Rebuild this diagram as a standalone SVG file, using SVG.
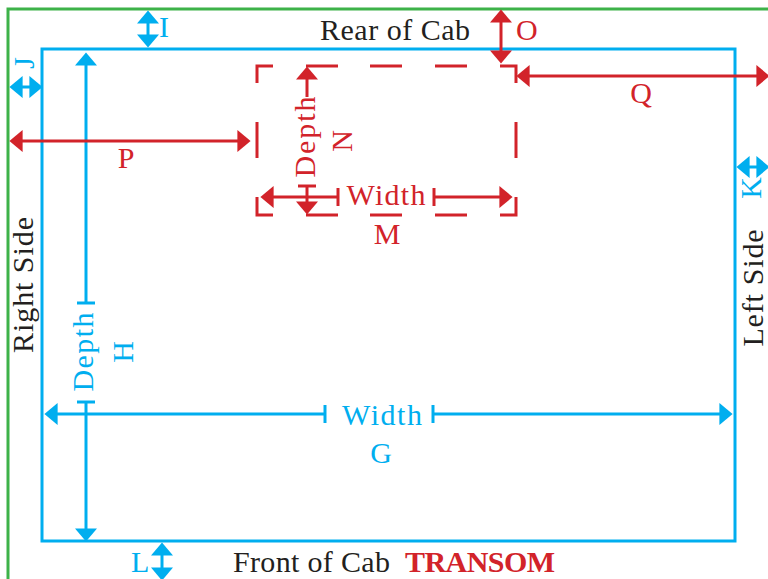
<svg xmlns="http://www.w3.org/2000/svg" width="768" height="579" viewBox="0 0 768 579">
<style>
text{font-family:"Liberation Serif","Times New Roman",serif;font-size:30px}
.b{fill:#00aeef}.r{fill:#d2232a}.k{fill:#231f20}
.bl{stroke:#00aeef;stroke-width:3;fill:none}
.rl{stroke:#d2232a;stroke-width:3;fill:none}
.m{text-anchor:middle}
</style>
<defs>
<marker id="ab" markerUnits="userSpaceOnUse" markerWidth="14" markerHeight="22" viewBox="0 0 12 20" refX="6" refY="10" orient="auto-start-reverse"><path d="M0,0 L12,10 L0,20 z" fill="#00aeef"/></marker>
<marker id="ar" markerUnits="userSpaceOnUse" markerWidth="14" markerHeight="22" viewBox="0 0 12 20" refX="6" refY="10" orient="auto-start-reverse"><path d="M0,0 L12,10 L0,20 z" fill="#d2232a"/></marker>
</defs>
<rect width="768" height="579" fill="#fff"/>
<g id="frame">
<path d="M8,579 V9 H768" stroke="#3db249" stroke-width="3" fill="none"/>
</g>
<g id="cab">
<rect x="42" y="49" width="693" height="492" class="bl"/>
<text class="k m" x="395" y="40" textLength="150">Rear of Cab</text>
<text class="k" x="233" y="572" textLength="157">Front of Cab</text>
<text class="r" x="405" y="572" font-weight="bold" textLength="150">TRANSOM</text>
<text class="k m" x="33" y="285" transform="rotate(-90 33 285)" textLength="136">Right Side</text>
<text class="k m" x="763" y="288" transform="rotate(-90 763 288)" textLength="117">Left Side</text>
</g>
<g id="transom-box">
<path class="rl" d="M257,83 V66 H273 M306,66 H338 M370,66 H402 M435,66 H467 M500,66 H516 V83 M516,122 V158 M516,197 V215 H500 M467,215 H435 M402,215 H370 M338,215 H306 M273,215 H257 V197 M257,158 V122"/>
</g>
<g id="connectors">
<line class="bl" x1="86" y1="303" x2="86" y2="59" marker-end="url(#ab)"/>
<line class="bl" x1="77" y1="303" x2="95" y2="303"/>
<line class="bl" x1="86" y1="402" x2="86" y2="535" marker-end="url(#ab)"/>
<line class="bl" x1="77" y1="402" x2="95" y2="402"/>
<line class="bl" x1="325" y1="414" x2="51" y2="414" marker-end="url(#ab)"/>
<line class="bl" x1="325" y1="405" x2="325" y2="423"/>
<line class="bl" x1="433" y1="414" x2="726" y2="414" marker-end="url(#ab)"/>
<line class="bl" x1="433" y1="405" x2="433" y2="423"/>
<line class="bl" x1="148" y1="17" x2="148" y2="41" marker-start="url(#ab)" marker-end="url(#ab)"/>
<line class="bl" x1="16" y1="87" x2="36" y2="87" marker-start="url(#ab)" marker-end="url(#ab)"/>
<line class="bl" x1="743" y1="167" x2="763" y2="167" marker-start="url(#ab)" marker-end="url(#ab)"/>
<line class="bl" x1="162" y1="549" x2="162" y2="574" marker-start="url(#ab)" marker-end="url(#ab)"/>
<line class="rl" x1="501" y1="16" x2="501" y2="57" marker-start="url(#ar)" marker-end="url(#ar)"/>
<line class="rl" x1="523" y1="76" x2="763" y2="76" marker-start="url(#ar)" marker-end="url(#ar)"/>
<line class="rl" x1="16" y1="141" x2="244" y2="141" marker-start="url(#ar)" marker-end="url(#ar)"/>
<line class="rl" x1="307" y1="97" x2="307" y2="73" marker-end="url(#ar)"/>
<line class="rl" x1="307" y1="186" x2="307" y2="208" marker-end="url(#ar)"/>
<line class="rl" x1="298" y1="186" x2="316" y2="186"/>
<line class="rl" x1="338" y1="197" x2="267" y2="197" marker-end="url(#ar)"/>
<line class="rl" x1="338" y1="188" x2="338" y2="206"/>
<line class="rl" x1="434" y1="197" x2="506" y2="197" marker-end="url(#ar)"/>
<line class="rl" x1="434" y1="188" x2="434" y2="206"/>
</g>
<g id="labels">
<text class="b m" x="93" y="352" transform="rotate(-90 93 352)" textLength="79">Depth</text>
<text class="b m" x="133" y="352" transform="rotate(-90 133 352)">H</text>
<text class="b m" x="382" y="425" textLength="80">Width</text>
<text class="b m" x="381" y="463">G</text>
<text class="b" x="159" y="37" font-size="28">I</text>
<text class="b m" x="34" y="63" font-size="28" transform="rotate(-90 34 63)">J</text>
<text class="b m" x="761" y="188" transform="rotate(-90 761 188)">K</text>
<text class="b" x="131" y="572" font-size="28">L</text>
<text class="r" x="516" y="40">O</text>
<text class="r m" x="641" y="103">Q</text>
<text class="r m" x="126" y="168">P</text>
<text class="r m" x="315" y="137" transform="rotate(-90 315 137)" textLength="81">Depth</text>
<text class="r m" x="352" y="141" font-size="28" transform="rotate(-90 352 141)">N</text>
<text class="r m" x="386" y="205" textLength="79">Width</text>
<text class="r m" x="387" y="244" font-size="28">M</text>
</g>
</svg>
